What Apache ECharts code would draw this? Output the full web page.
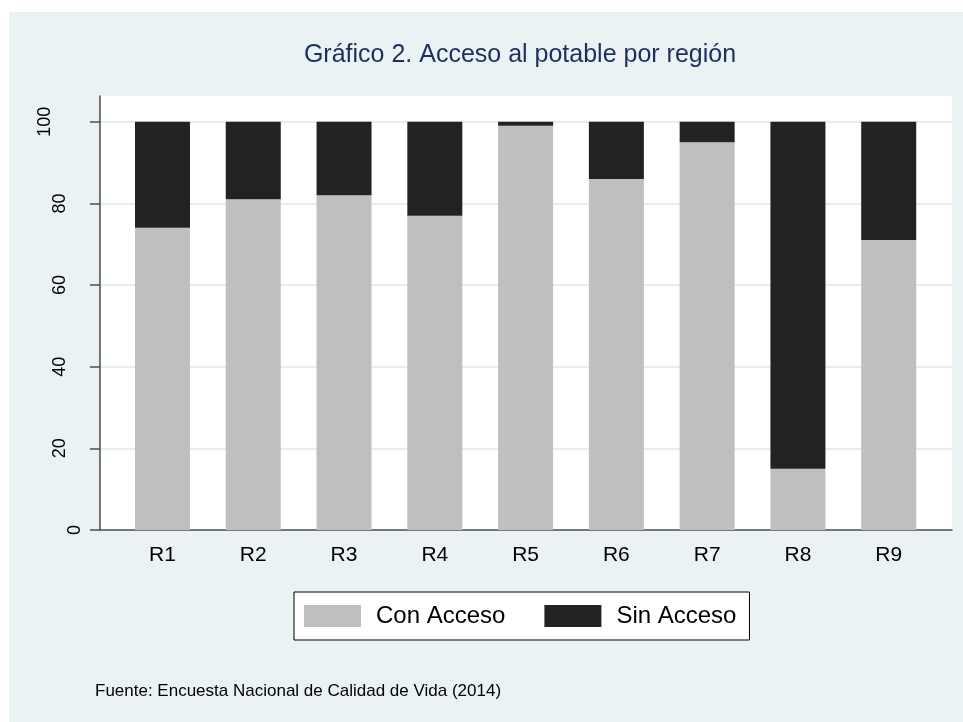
<!DOCTYPE html>
<html>
<head>
<meta charset="utf-8">
<script src="https://cdn.jsdelivr.net/npm/echarts@6/dist/echarts.min.js"></script>
<style>
  html, body { margin: 0; padding: 0; background: #ffffff; }
  #chart-container { position: absolute; left: 9px; top: 12px; width: 954px; height: 710px; }
</style>
</head>
<body>
<div id="chart-container"></div>
<script>
// data
const regions = ["R1", "R2", "R3", "R4", "R5", "R6", "R7", "R8", "R9"];
const conAcceso = [74, 81, 82, 77, 99, 86, 95, 15, 71];
const sinAcceso = [26, 19, 18, 23, 1, 14, 5, 85, 29];
const yTicks = [0, 20, 40, 60, 80, 100];
const seriesNames = ["Con Acceso", "Sin Acceso"];

const FONT = "'Liberation Sans', Arial, sans-serif";
const AXIS_COLOR = "#4d4d4d";
const Y_MAX = 106.3;

const chart = echarts.init(document.getElementById("chart-container"));

// grid 0 = plot frame (white region, axes), grid 1 = bars, a bit narrower
// so the outer gaps are wider than half a category band (as in the original)
const option = {
  animation: false,
  backgroundColor: "#eaf2f3",
  textStyle: { fontFamily: FONT },
  title: {
    text: "Gráfico 2. Acceso al potable por región",
    left: 506,
    top: 26,
    textAlign: "center",
    textStyle: { color: "#1e2f5e", fontSize: 25, fontWeight: "normal", fontFamily: FONT }
  },
  legend: {
    data: seriesNames,
    left: 285,
    top: 580,
    icon: "rect",
    itemWidth: 57,
    itemHeight: 22,
    itemGap: 39,
    padding: [12, 13, 12, 10],
    borderColor: "#000",
    borderWidth: 1,
    backgroundColor: "#ffffff",
    textStyle: { fontSize: 24, color: "#000", fontFamily: FONT, padding: [0, 0, 0, 10] }
  },
  grid: [
    { left: 91, right: 11, top: 84, bottom: 192, show: true, backgroundColor: "#ffffff", borderWidth: 0 },
    { left: 108.1, right: 28.9, top: 84, bottom: 192 }
  ],
  xAxis: [
    {
      gridIndex: 0,
      type: "value",
      min: 0,
      max: 1,
      axisLine: { show: true, onZero: false, lineStyle: { color: AXIS_COLOR, width: 1.5 } },
      axisTick: { show: false },
      axisLabel: { show: false },
      splitLine: { show: false }
    },
    {
      gridIndex: 1,
      type: "category",
      data: regions,
      axisLine: { show: false },
      axisTick: { show: false },
      splitLine: { show: false },
      axisLabel: { fontSize: 21, color: "#000", margin: 15, fontFamily: FONT }
    }
  ],
  yAxis: [
    {
      gridIndex: 0,
      type: "value",
      min: 0,
      max: Y_MAX,
      interval: 20,
      axisLine: { show: true, onZero: false, lineStyle: { color: AXIS_COLOR, width: 1.5 } },
      axisTick: { show: true, length: 10, customValues: yTicks, lineStyle: { color: AXIS_COLOR, width: 1.5 } },
      splitLine: { show: true, lineStyle: { color: "#e4eef0", width: 2 } },
      axisLabel: {
        customValues: yTicks,
        rotate: 90,
        margin: 16,
        fontSize: 18,
        color: "#000",
        fontFamily: FONT,
        formatter: (v) => "{d" + String(v).length + "|" + v + "}",
        rich: {
          d1: { fontSize: 18, fontFamily: FONT, color: "#000", padding: [0, 0, 0, 0] },
          d2: { fontSize: 18, fontFamily: FONT, color: "#000", padding: [0, 0, 15, 0] },
          d3: { fontSize: 18, fontFamily: FONT, color: "#000", padding: [0, 0, 30, 0] }
        }
      }
    },
    {
      gridIndex: 1,
      type: "value",
      min: 0,
      max: Y_MAX,
      show: false
    }
  ],
  graphic: [
    {
      type: "text",
      left: 86,
      top: 671,
      style: {
        text: "Fuente: Encuesta Nacional de Calidad de Vida (2014)",
        fontSize: 17,
        fontFamily: FONT,
        fill: "#000"
      }
    }
  ],
  series: [
    {
      name: seriesNames[0],
      type: "bar",
      xAxisIndex: 1,
      yAxisIndex: 1,
      stack: "total",
      barWidth: 55,
      itemStyle: { color: "#bfbfbf" },
      data: conAcceso
    },
    {
      name: seriesNames[1],
      type: "bar",
      xAxisIndex: 1,
      yAxisIndex: 1,
      stack: "total",
      barWidth: 55,
      itemStyle: { color: "#222222" },
      data: sinAcceso
    }
  ]
};

chart.setOption(option);
</script>
</body>
</html>
